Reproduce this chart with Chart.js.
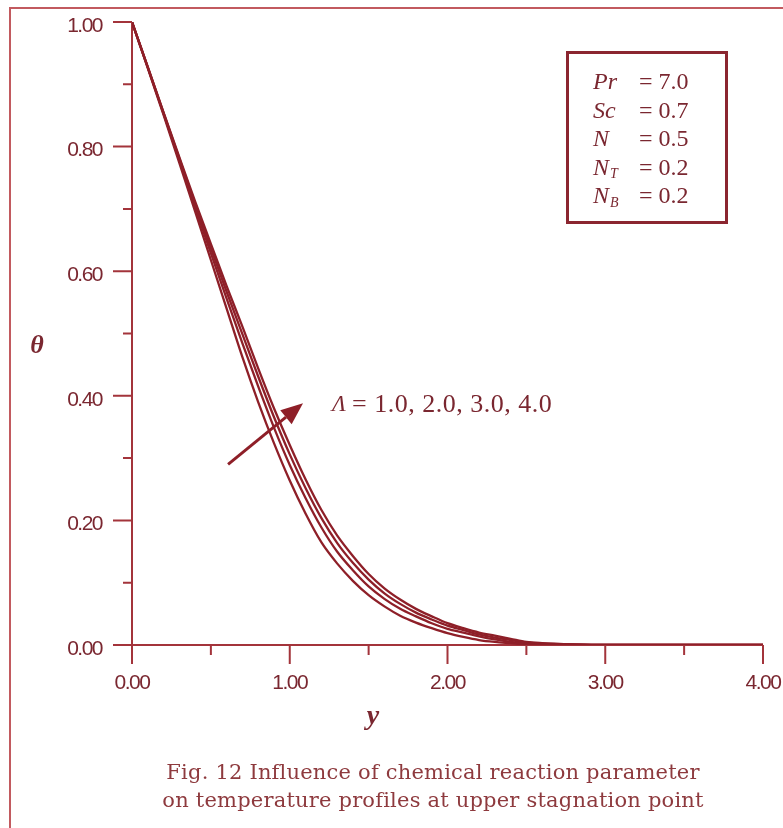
<!DOCTYPE html>
<html>
<head>
<meta charset="utf-8">
<title>Temperature profiles</title>
<script src="https://cdn.jsdelivr.net/npm/chart.js@4.4.1/dist/chart.umd.min.js"></script>
<style>
    html, body { margin: 0; padding: 0; background: #fff; overflow: hidden; }
    #wrap { position: relative; width: 783px; height: 828px; }
    #chart { position: absolute; left: 0; top: 0; }
    .caption {
        position: absolute; left: 83px; width: 700px; top: 758px;
        text-align: center; font-family: "DejaVu Serif", "Liberation Serif", serif;
        font-size: 21px; line-height: 28px; letter-spacing: 0.2px; color: #8e3a3e; white-space: nowrap;
    }
    .preload { position: absolute; left: -9999px; top: 0; }
</style>
</head>
<body>
<div id="wrap">
    <canvas id="chart" width="783" height="828"></canvas>
    <div class="caption">Fig. 12 Influence of chemical reaction parameter<br>on temperature profiles at upper stagnation point</div>
    <span class="preload" style="font-family: 'Liberation Sans'">0.</span>
    <span class="preload" style="font-family: 'Liberation Serif'">Λ=</span>
    <span class="preload" style="font-family: 'Liberation Serif'; font-style: italic; font-weight: bold">θy</span>
    <span class="preload" style="font-family: 'Liberation Serif'; font-style: italic">PrScN</span>
</div>
<script>
// similarity coordinate y and temperature θ for each chemical reaction parameter Λ
const yPoints = [0.0, 0.1, 0.2, 0.3, 0.4, 0.5, 0.6, 0.7, 0.8, 0.9, 1.0, 1.1, 1.2, 1.3, 1.4, 1.5,
                 1.6, 1.7, 1.8, 1.9, 2.0, 2.1, 2.2, 2.3, 2.4, 2.5, 2.6, 2.8, 3.0, 3.5, 4.0];
const thetaL1 = [1.000, 0.926, 0.851, 0.774, 0.696, 0.618, 0.540, 0.462, 0.390, 0.324, 0.264, 0.211, 0.165, 0.131, 0.103, 0.080,
                 0.062, 0.047, 0.036, 0.027, 0.019, 0.013, 0.008, 0.005, 0.003, 0.001, 0.000, 0, 0, 0, 0];
const thetaL2 = [1.000, 0.927, 0.853, 0.778, 0.703, 0.629, 0.556, 0.484, 0.415, 0.349, 0.289, 0.236, 0.189, 0.150, 0.120, 0.094,
                 0.074, 0.058, 0.046, 0.035, 0.026, 0.020, 0.014, 0.009, 0.005, 0.003, 0.001, 0, 0, 0, 0];
const thetaL3 = [1.000, 0.927, 0.854, 0.781, 0.708, 0.637, 0.567, 0.499, 0.431, 0.366, 0.306, 0.252, 0.204, 0.164, 0.132, 0.105,
                 0.083, 0.066, 0.052, 0.041, 0.031, 0.024, 0.017, 0.012, 0.008, 0.004, 0.002, 0.001, 0, 0, 0];
const thetaL4 = [1.000, 0.928, 0.855, 0.783, 0.712, 0.644, 0.576, 0.511, 0.444, 0.380, 0.321, 0.266, 0.217, 0.176, 0.143, 0.114,
                 0.091, 0.073, 0.058, 0.046, 0.035, 0.027, 0.020, 0.015, 0.010, 0.005, 0.003, 0.001, 0, 0, 0];
const lambdaValues = ['1.0', '2.0', '3.0', '4.0'];

// axis ticks
const xMajor = [0, 1, 2, 3, 4];
const xMinor = [0.5, 1.5, 2.5, 3.5];
const yMajor = [0, 0.2, 0.4, 0.6, 0.8, 1.0];
const yMinor = [0.1, 0.3, 0.5, 0.7, 0.9];

// fixed parameters shown in the box: name, subscript, value
const paramNames = ['Pr', 'Sc', 'N', 'N', 'N'];
const paramSubs = ['', '', '', 'T', 'B'];
const paramValues = ['7.0', '0.7', '0.5', '0.2', '0.2'];

const curveInk = '#8e1f28';
const axisInk = '#a3343b';
const textInk = '#7a2730';
const serif = '"Liberation Serif", "Times New Roman", serif';

function toPoints(values) {
    return yPoints.map((y, i) => ({ x: y, y: values[i] }));
}

const thetaSeries = [thetaL1, thetaL2, thetaL3, thetaL4];

const figurePlugin = {
    id: 'figure',
    beforeDatasetsDraw(chart) {
        const ctx = chart.ctx;
        const xs = chart.scales.x, ys = chart.scales.y;
        const x0 = xs.getPixelForValue(0), y0 = ys.getPixelForValue(0);
        ctx.save();

        // page frame
        ctx.strokeStyle = '#c25a5f';
        ctx.lineWidth = 2;
        ctx.beginPath();
        ctx.moveTo(10, 828); ctx.lineTo(10, 8); ctx.lineTo(783, 8);
        ctx.stroke();

        // axis lines and ticks
        ctx.strokeStyle = axisInk;
        ctx.lineWidth = 2;
        ctx.beginPath();
        ctx.moveTo(x0, ys.getPixelForValue(1)); ctx.lineTo(x0, y0); ctx.lineTo(xs.getPixelForValue(4), y0);
        yMajor.forEach(v => { const p = ys.getPixelForValue(v); ctx.moveTo(x0 - 19, p); ctx.lineTo(x0, p); });
        yMinor.forEach(v => { const p = ys.getPixelForValue(v); ctx.moveTo(x0 - 9, p); ctx.lineTo(x0, p); });
        xMajor.forEach(v => { const p = xs.getPixelForValue(v); ctx.moveTo(p, y0); ctx.lineTo(p, y0 + 19); });
        xMinor.forEach(v => { const p = xs.getPixelForValue(v); ctx.moveTo(p, y0); ctx.lineTo(p, y0 + 10); });
        ctx.stroke();

        // tick labels
        ctx.fillStyle = textInk;
        ctx.font = '21px "Liberation Sans", Arial, sans-serif';
        ctx.letterSpacing = '-1.5px';
        ctx.textAlign = 'right';
        ctx.textBaseline = 'middle';
        yMajor.forEach(v => ctx.fillText(v.toFixed(2), x0 - 30, ys.getPixelForValue(v) + 4));
        ctx.textAlign = 'center';
        xMajor.forEach(v => ctx.fillText(v.toFixed(2), xs.getPixelForValue(v), y0 + 38));
        ctx.letterSpacing = '0px';

        // axis titles
        ctx.font = 'italic bold 26px ' + serif;
        ctx.fillText('θ', 37, 346);
        ctx.font = 'italic bold 28px ' + serif;
        ctx.fillText('y', 373, 717);
        ctx.restore();
    },
    afterDatasetsDraw(chart) {
        const ctx = chart.ctx;
        const xs = chart.scales.x, ys = chart.scales.y;
        const area = chart.chartArea;
        ctx.save();

        // arrow pointing in the direction of increasing Λ
        const tx = xs.getPixelForValue(0.609), ty = ys.getPixelForValue(0.290);
        const hx = xs.getPixelForValue(1.084), hy = ys.getPixelForValue(0.388);
        const ang = Math.atan2(hy - ty, hx - tx);
        const headLen = 22, headHalf = 9;
        const bx = hx - headLen * Math.cos(ang), by = hy - headLen * Math.sin(ang);
        ctx.strokeStyle = curveInk;
        ctx.fillStyle = curveInk;
        ctx.lineWidth = 3;
        ctx.beginPath();
        ctx.moveTo(tx, ty); ctx.lineTo(bx, by);
        ctx.stroke();
        ctx.beginPath();
        ctx.moveTo(hx, hy);
        ctx.lineTo(bx + headHalf * Math.sin(ang), by - headHalf * Math.cos(ang));
        ctx.lineTo(bx - headHalf * Math.sin(ang), by + headHalf * Math.cos(ang));
        ctx.closePath();
        ctx.fill();

        // Λ label
        const lx = xs.getPixelForValue(1.268), ly = ys.getPixelForValue(0.385);
        ctx.fillStyle = textInk;
        ctx.textAlign = 'left';
        ctx.textBaseline = 'middle';
        ctx.font = 'italic 23px ' + serif;
        ctx.fillText('Λ', lx, ly);
        ctx.font = '26px ' + serif;
        ctx.letterSpacing = '0.5px';
        ctx.fillText('= ' + lambdaValues.join(', '), lx + 20, ly);
        ctx.letterSpacing = '0px';

        // parameter box
        const boxL = area.right - 196, boxT = area.top + 30;
        ctx.strokeStyle = '#8b2630';
        ctx.lineWidth = 3;
        ctx.strokeRect(boxL + 0.5, boxT + 0.5, 159, 170);
        paramNames.forEach((name, i) => {
            const rowY = boxT + 31 + i * 28.5;
            ctx.font = 'italic 24px ' + serif;
            ctx.fillText(name, boxL + 26, rowY);
            if (paramSubs[i]) {
                const w = ctx.measureText(name).width;
                ctx.font = 'italic 14px ' + serif;
                ctx.fillText(paramSubs[i], boxL + 27 + w, rowY + 6);
            }
            ctx.font = '24px ' + serif;
            ctx.fillText('= ' + paramValues[i], boxL + 72, rowY);
        });
        ctx.restore();
    }
};

function drawChart() {
    new Chart(document.getElementById('chart'), {
        type: 'line',
        data: {
            datasets: thetaSeries.map((values, i) => ({
                label: 'Λ = ' + lambdaValues[i],
                data: toPoints(values),
                borderColor: curveInk,
                borderWidth: 2.3,
                pointRadius: 0,
                fill: false,
                cubicInterpolationMode: 'monotone'
            }))
        },
        options: {
            responsive: false,
            animation: false,
            layout: {
                padding: { left: 0, top: 22, right: 20, bottom: 143 }
            },
            plugins: {
                legend: { display: false },
                tooltip: { enabled: false }
            },
            scales: {
                x: {
                    type: 'linear', min: 0, max: 4,
                    grid: { display: false }, border: { display: false }, ticks: { display: false },
                    afterFit: function(scale) { scale.height = 40; }
                },
                y: {
                    type: 'linear', min: 0, max: 1,
                    grid: { display: false }, border: { display: false }, ticks: { display: false },
                    afterFit: function(scale) { scale.width = 132; }
                }
            }
        },
        plugins: [figurePlugin]
    });
}

// make sure the named fonts are ready before the canvas text is drawn
Promise.all([
    document.fonts.load('21px "Liberation Sans"'),
    document.fonts.load('24px "Liberation Serif"'),
    document.fonts.load('italic 24px "Liberation Serif"'),
    document.fonts.load('italic bold 26px "Liberation Serif"')
]).then(drawChart, drawChart);
</script>
</body>
</html>
